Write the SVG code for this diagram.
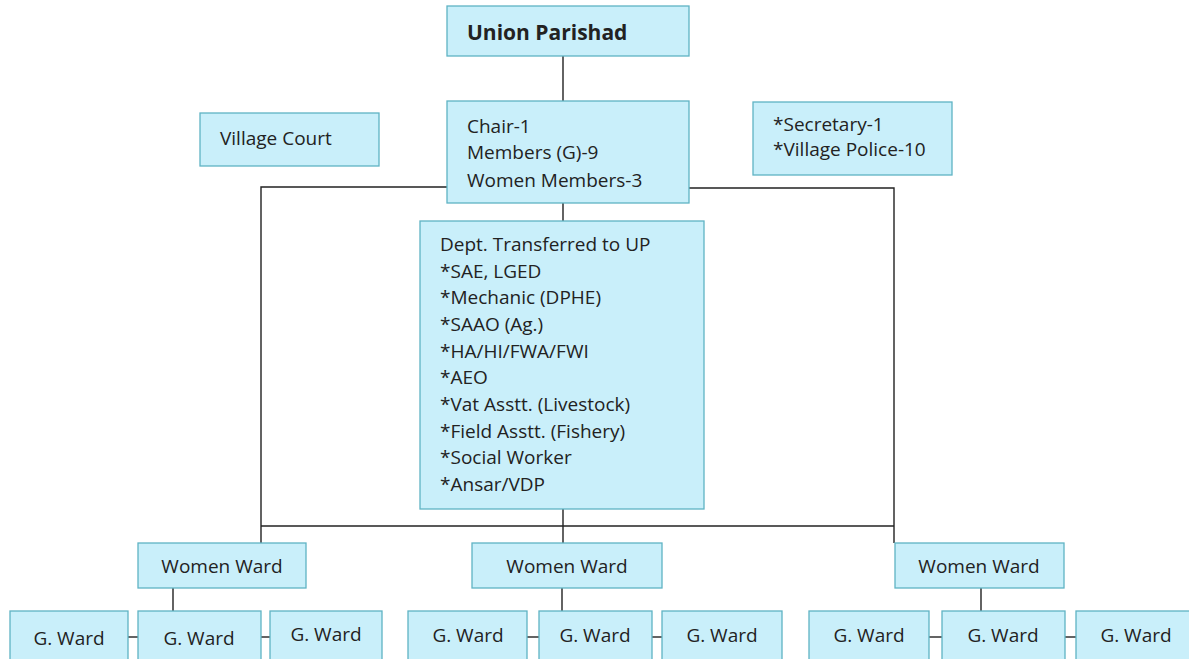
<svg xmlns="http://www.w3.org/2000/svg" width="1189" height="659" viewBox="0 0 1189 659">
  <style>
    .box { fill: #c9effa; stroke: #5fb3c4; stroke-width: 1.3; }
    .txt { font-family: "Open Sans", "Noto Sans", "Liberation Sans", sans-serif; font-size: 19px; fill: #222; }
    .mid { text-anchor: middle; }
    .bold { font-weight: bold; font-size: 21px; }
    .wire { fill: none; stroke: #222; stroke-width: 1.4; }
  </style>
  <rect width="1189" height="659" fill="#ffffff"/>

  <!-- connectors -->
  <g id="connectors" class="wire">
    <line x1="563" y1="56" x2="563" y2="101"/>
    <polyline points="447,187 261,187 261,526"/>
    <polyline points="689,188 894,188 894,543"/>
    <line x1="563" y1="203" x2="563" y2="221"/>
    <line x1="563" y1="509" x2="563" y2="543"/>
    <line x1="261" y1="526" x2="894" y2="526"/>
    <line x1="261" y1="526" x2="261" y2="543"/>
    <!-- ward links -->
    <line x1="173" y1="588" x2="173" y2="611"/>
    <line x1="128" y1="637" x2="138" y2="637"/>
    <line x1="261" y1="637" x2="270" y2="637"/>
    <line x1="562" y1="588" x2="562" y2="611"/>
    <line x1="527" y1="637" x2="539" y2="637"/>
    <line x1="652" y1="637" x2="662" y2="637"/>
    <line x1="981" y1="588" x2="981" y2="611"/>
    <line x1="929" y1="637" x2="942" y2="637"/>
    <line x1="1065" y1="637" x2="1076" y2="637"/>
  </g>

  <g id="union-parishad">
    <rect class="box" x="447" y="6" width="242" height="50"/>
    <text class="txt bold" x="467" y="40">Union Parishad</text>
  </g>

  <g id="village-court">
    <rect class="box" x="200" y="113" width="179" height="53"/>
    <text class="txt" x="220" y="145">Village Court</text>
  </g>

  <g id="council">
    <rect class="box" x="447" y="101" width="242" height="102"/>
    <text class="txt" x="467" y="133">Chair-1</text>
    <text class="txt" x="467" y="159">Members (G)-9</text>
    <text class="txt" x="467" y="187">Women Members-3</text>
  </g>

  <g id="staff">
    <rect class="box" x="753" y="102" width="199" height="73"/>
    <text class="txt" x="773" y="131">*Secretary-1</text>
    <text class="txt" x="773" y="156">*Village Police-10</text>
  </g>

  <g id="departments">
    <rect class="box" x="420" y="221" width="284" height="288"/>
    <text class="txt" x="440" y="251">Dept. Transferred to UP</text>
    <text class="txt" x="440" y="277.7">*SAE, LGED</text>
    <text class="txt" x="440" y="304.3">*Mechanic (DPHE)</text>
    <text class="txt" x="440" y="331">*SAAO (Ag.)</text>
    <text class="txt" x="440" y="357.7">*HA/HI/FWA/FWI</text>
    <text class="txt" x="440" y="384.3">*AEO</text>
    <text class="txt" x="440" y="411">*Vat Asstt. (Livestock)</text>
    <text class="txt" x="440" y="437.7">*Field Asstt. (Fishery)</text>
    <text class="txt" x="440" y="464.3">*Social Worker</text>
    <text class="txt" x="440" y="491">*Ansar/VDP</text>
  </g>

  <!-- women wards -->
  <g id="women-ward-1">
    <rect class="box" x="138" y="543" width="168" height="45"/>
    <text class="txt mid" x="222" y="573">Women Ward</text>
  </g>
  <g id="women-ward-2">
    <rect class="box" x="472" y="543" width="190" height="45"/>
    <text class="txt mid" x="567" y="573">Women Ward</text>
  </g>
  <g id="women-ward-3">
    <rect class="box" x="895" y="543" width="169" height="45"/>
    <text class="txt mid" x="979" y="573">Women Ward</text>
  </g>

  <!-- general wards -->
  <g id="g-ward-1">
    <rect class="box" x="10" y="611" width="118" height="60"/>
    <text class="txt mid" x="69" y="645">G. Ward</text>
  </g>
  <g id="g-ward-2">
    <rect class="box" x="138" y="611" width="123" height="60"/>
    <text class="txt mid" x="199" y="645">G. Ward</text>
  </g>
  <g id="g-ward-3">
    <rect class="box" x="270" y="611" width="112" height="60"/>
    <text class="txt mid" x="326" y="641">G. Ward</text>
  </g>
  <g id="g-ward-4">
    <rect class="box" x="408" y="611" width="119" height="60"/>
    <text class="txt mid" x="468" y="642">G. Ward</text>
  </g>
  <g id="g-ward-5">
    <rect class="box" x="539" y="611" width="113" height="60"/>
    <text class="txt mid" x="595" y="642">G. Ward</text>
  </g>
  <g id="g-ward-6">
    <rect class="box" x="662" y="611" width="120" height="60"/>
    <text class="txt mid" x="722" y="642">G. Ward</text>
  </g>
  <g id="g-ward-7">
    <rect class="box" x="809" y="611" width="120" height="60"/>
    <text class="txt mid" x="869" y="642">G. Ward</text>
  </g>
  <g id="g-ward-8">
    <rect class="box" x="942" y="611" width="123" height="60"/>
    <text class="txt mid" x="1003" y="642">G. Ward</text>
  </g>
  <g id="g-ward-9">
    <rect class="box" x="1076" y="611" width="120" height="60"/>
    <text class="txt mid" x="1136" y="642">G. Ward</text>
  </g>
</svg>
